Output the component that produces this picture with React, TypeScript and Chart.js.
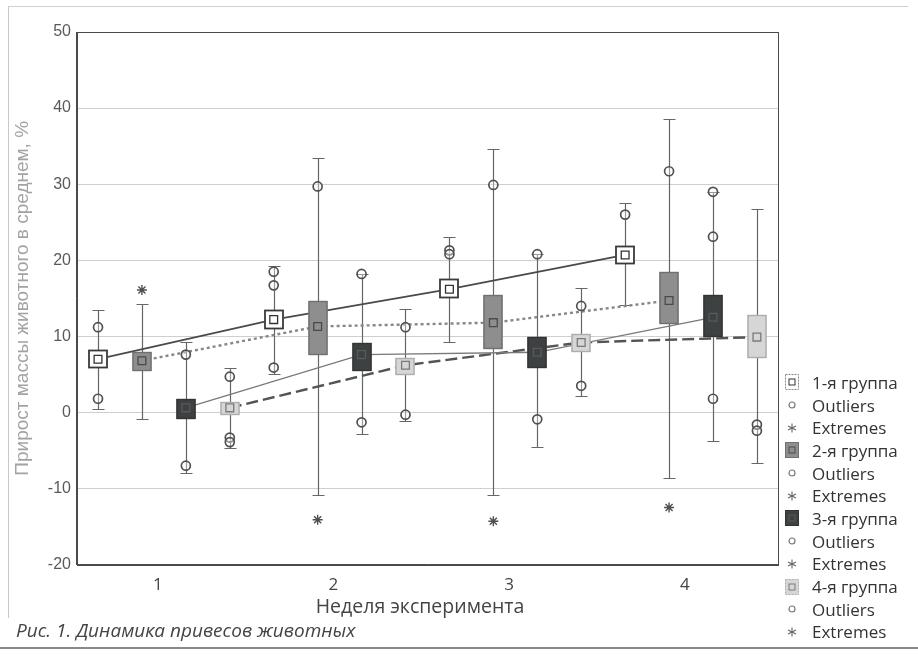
import React, { useEffect, useRef } from "react";
import { Chart, registerables } from "chart.js";

Chart.register(...registerables);

// ---------- data ----------
const WEEKS = [1, 2, 3, 4];
const WEEK_TICKS = ["1", "2", "3", "4"];
const Y_TICKS = [-20, -10, 0, 10, 20, 30, 40, 50];
const GROUP_NAMES = ["1-я группа", "2-я группа", "3-я группа", "4-я группа"];

const g1Mean = [7.0, 12.2, 16.2, 20.7];
const g1BoxLo = [5.8, 10.9, 15.0, 19.5];
const g1BoxHi = [8.2, 13.4, 17.5, 21.9];
const g1WhiskLo = [0.5, 5.0, 9.3, 14.1];
const g1WhiskHi = [13.4, 19.3, 23.0, 27.5];
const g1Outliers = [[11.2, 1.8], [18.5, 16.7, 5.9], [21.3, 20.8], [26.0]];
const g1Extremes: number[][] = [[], [], [], []];

const g2Mean = [6.8, 11.3, 11.8, 14.7];
const g2BoxLo = [5.5, 7.6, 8.3, 11.6];
const g2BoxHi = [8.0, 14.7, 15.4, 18.4];
const g2WhiskLo = [-0.8, -10.8, -10.8, -8.6];
const g2WhiskHi = [14.2, 33.4, 34.6, 38.6];
const g2Outliers = [[], [29.7], [29.9], [31.7]];
const g2Extremes = [[16.1], [-14.1], [-14.3], [-12.5]];

const g3Mean = [0.6, 7.6, 7.9, 12.5];
const g3BoxLo = [-0.8, 5.5, 5.8, 9.9];
const g3BoxHi = [1.8, 9.1, 9.9, 15.4];
const g3WhiskLo = [-7.9, -2.9, -4.5, -3.7];
const g3WhiskHi = [9.3, 18.2, 20.8, 29.0];
const g3Outliers = [[7.6, -7.0], [18.2, -1.3], [20.8, -0.9], [29.0, 23.1, 1.8]];
const g3Extremes: number[][] = [[], [], [], []];

const g4Mean = [0.6, 6.2, 9.2, 9.9];
const g4BoxLo = [-0.3, 4.9, 7.9, 7.2];
const g4BoxHi = [1.4, 7.2, 10.3, 12.8];
const g4WhiskLo = [-4.7, -1.1, 2.2, -6.7];
const g4WhiskHi = [5.9, 13.6, 16.3, 26.8];
const g4Outliers = [[4.7, -3.3, -3.9], [11.2, -0.3], [14.0, 3.5], [-1.6, -2.4]];
const g4Extremes: number[][] = [[], [], [], []];

// ---------- layout / styles ----------
const GROUP_OFFSETS = [-0.34, -0.09, 0.16, 0.41];
const X_MIN = 0.54;
const X_MAX = 4.53;

const STYLES = [
  { boxFill: "#ffffff", boxBorder: "#3a3a3a", meanBorder: "#333333", lineColor: "#4a4a4a", lineDash: [] as number[], lineWidth: 1.7 },
  { boxFill: "#8e8e8e", boxBorder: "#707070", meanBorder: "#4a4a4a", lineColor: "#7f8c7e", lineDash: [3, 3], lineWidth: 2.4 },
  { boxFill: "#3d4141", boxBorder: "#333333", meanBorder: "#5a5a5a", lineColor: "#7a7a7a", lineDash: [] as number[], lineWidth: 1.4 },
  { boxFill: "#d6d6d6", boxBorder: "#adadad", meanBorder: "#7a7a7a", lineColor: "#50555b", lineDash: [12, 5], lineWidth: 2.4 },
];

const GROUPS = [
  { mean: g1Mean, boxLo: g1BoxLo, boxHi: g1BoxHi, whiskLo: g1WhiskLo, whiskHi: g1WhiskHi, outliers: g1Outliers, extremes: g1Extremes },
  { mean: g2Mean, boxLo: g2BoxLo, boxHi: g2BoxHi, whiskLo: g2WhiskLo, whiskHi: g2WhiskHi, outliers: g2Outliers, extremes: g2Extremes },
  { mean: g3Mean, boxLo: g3BoxLo, boxHi: g3BoxHi, whiskLo: g3WhiskLo, whiskHi: g3WhiskHi, outliers: g3Outliers, extremes: g3Extremes },
  { mean: g4Mean, boxLo: g4BoxLo, boxHi: g4BoxHi, whiskLo: g4WhiskLo, whiskHi: g4WhiskHi, outliers: g4Outliers, extremes: g4Extremes },
];

const BOX_HALF_PX = 9.5;
const CAP_HALF_PX = 6;
const WHISKER_COLOR = "#666666";

const boxPlugin = {
  id: "boxplots",
  beforeDatasetsDraw(chart: any) {
    chart.$boxesDrawn = false;
    const { ctx, scales } = chart;
    const x = scales.x, y = scales.y;
    ctx.save();
    ctx.strokeStyle = WHISKER_COLOR;
    ctx.lineWidth = 1.2;
    GROUPS.forEach((g, gi) => {
      WEEKS.forEach((w, wi) => {
        const px = Math.round(x.getPixelForValue(w + GROUP_OFFSETS[gi])) + 0.5;
        const top = Math.round(y.getPixelForValue(g.whiskHi[wi])) + 0.5;
        const bot = Math.round(y.getPixelForValue(g.whiskLo[wi])) + 0.5;
        ctx.beginPath();
        ctx.moveTo(px, top);
        ctx.lineTo(px, bot);
        ctx.moveTo(px - CAP_HALF_PX, top);
        ctx.lineTo(px + CAP_HALF_PX, top);
        ctx.moveTo(px - CAP_HALF_PX, bot);
        ctx.lineTo(px + CAP_HALF_PX, bot);
        ctx.stroke();
      });
    });
    ctx.restore();
  },
  beforeDatasetDraw(chart: any, args: any) {
    const ds = chart.data.datasets[args.index];
    if (ds.kind !== "points" || chart.$boxesDrawn) return;
    chart.$boxesDrawn = true;
    const { ctx, scales } = chart;
    const x = scales.x, y = scales.y;
    ctx.save();
    GROUPS.forEach((g, gi) => {
      const st = STYLES[gi];
      WEEKS.forEach((w, wi) => {
        const px = Math.round(x.getPixelForValue(w + GROUP_OFFSETS[gi]));
        const top = Math.round(y.getPixelForValue(g.boxHi[wi]));
        const bot = Math.round(y.getPixelForValue(g.boxLo[wi]));
        ctx.fillStyle = st.boxFill;
        ctx.fillRect(px - BOX_HALF_PX, top, BOX_HALF_PX * 2, bot - top);
        ctx.strokeStyle = st.boxBorder;
        ctx.lineWidth = gi === 0 ? 1.8 : 1.4;
        ctx.strokeRect(px - BOX_HALF_PX + 0.5, top + 0.5, BOX_HALF_PX * 2 - 1, bot - top - 1);
      });
    });
    ctx.restore();
  },
  afterDraw(chart: any) {
    const { ctx, chartArea } = chart;
    ctx.save();
    ctx.strokeStyle = "#4a4a4a";
    ctx.lineWidth = 1;
    ctx.strokeRect(
      Math.round(chartArea.left) + 0.5,
      Math.round(chartArea.top) + 0.5,
      Math.round(chartArea.right - chartArea.left),
      Math.round(chartArea.bottom - chartArea.top)
    );
    ctx.restore();
  },
};

function buildDatasets() {
  const lines: any[] = [];
  const points: any[] = [];
  GROUPS.forEach((g, gi) => {
    const st = STYLES[gi];
    const off = GROUP_OFFSETS[gi];
    lines.push({
      type: "scatter",
      label: GROUP_NAMES[gi],
      kind: "line",
      showLine: true,
      data: WEEKS.map((w, wi) => ({ x: w + off, y: g.mean[wi] })),
      borderColor: st.lineColor,
      borderDash: st.lineDash,
      borderWidth: st.lineWidth,
      pointRadius: 0,
      order: 5,
    });
    points.push({
      type: "scatter",
      label: GROUP_NAMES[gi] + " mean",
      kind: "points",
      data: WEEKS.map((w, wi) => ({ x: w + off, y: g.mean[wi] })),
      pointStyle: "rect",
      pointRadius: 5.5,
      pointBorderWidth: 1.3,
      pointBorderColor: st.meanBorder,
      pointBackgroundColor: "rgba(0,0,0,0)",
      order: 1,
    });
    const outl: any[] = [];
    const extr: any[] = [];
    WEEKS.forEach((w, wi) => {
      g.outliers[wi].forEach((v) => outl.push({ x: w + off, y: v }));
      g.extremes[wi].forEach((v) => extr.push({ x: w + off, y: v }));
    });
    points.push({
      type: "scatter",
      label: "Outliers",
      kind: "points",
      data: outl,
      pointStyle: "circle",
      pointRadius: 4.5,
      pointBorderWidth: 1.7,
      pointBorderColor: "#505050",
      pointBackgroundColor: "rgba(255,255,255,0.35)",
      order: 1,
    });
    points.push({
      type: "scatter",
      label: "Extremes",
      kind: "points",
      data: extr,
      pointStyle: "star",
      pointRadius: 5,
      pointBorderWidth: 1.4,
      pointBorderColor: "#505050",
      order: 1,
    });
  });
  return [...points, ...lines];
}

const LEGEND_ROWS: { text: string; icon: string; group: number }[] = [];
GROUP_NAMES.forEach((name, gi) => {
  LEGEND_ROWS.push({ text: name, icon: "box", group: gi });
  LEGEND_ROWS.push({ text: "Outliers", icon: "circle", group: gi });
  LEGEND_ROWS.push({ text: "Extremes", icon: "star", group: gi });
});

function LegendIcon({ icon, group }: { icon: string; group: number }) {
  const st = STYLES[group];
  if (icon === "box") {
    return (
      <svg width="14" height="16" viewBox="0 0 14 16">
        <rect x="0.5" y="0.5" width="13" height="15" fill={st.boxFill} stroke={group === 0 ? "#8a8a8a" : st.boxBorder} strokeDasharray={group === 0 || group === 3 ? "2 1" : undefined} />
        <rect x="4" y="5" width="6" height="6" fill="none" stroke={st.meanBorder} strokeWidth="1" />
      </svg>
    );
  }
  if (icon === "circle") {
    return (
      <svg width="14" height="16" viewBox="0 0 14 16">
        <circle cx="7" cy="8" r="3" fill="none" stroke="#777" strokeWidth="1.2" />
      </svg>
    );
  }
  return (
    <svg width="14" height="16" viewBox="0 0 14 16">
      <g stroke="#666" strokeWidth="1.1">
        <line x1="7" y1="3.5" x2="7" y2="12.5" />
        <line x1="3" y1="6" x2="11" y2="10" />
        <line x1="3" y1="10" x2="11" y2="6" />
      </g>
    </svg>
  );
}

export default function App() {
  const canvasRef = useRef<HTMLCanvasElement | null>(null);

  useEffect(() => {
    const canvas = canvasRef.current;
    if (!canvas) return;
    const chart = new Chart(canvas, {
      type: "scatter",
      data: { datasets: buildDatasets() as any },
      plugins: [boxPlugin as any],
      options: {
        responsive: false,
        animation: false,
        devicePixelRatio: 1,
        layout: { padding: { left: 8, right: 140, top: 32, bottom: 50 } },
        plugins: {
          legend: { display: false },
          tooltip: { enabled: false },
        },
        scales: {
          x: {
            type: "linear",
            min: X_MIN,
            max: X_MAX,
            afterBuildTicks: (axis: any) => {
              axis.ticks = WEEKS.map((v) => ({ value: v }));
            },
            ticks: {
              callback: (v: any) => WEEK_TICKS[WEEKS.indexOf(Number(v))] ?? "",
              color: "#444",
              font: { family: "'Open Sans', sans-serif", size: 17 },
              padding: 10,
              maxRotation: 0,
            },
            grid: { display: true, drawOnChartArea: false, drawTicks: false },
            border: { display: true, color: "#4a4a4a" },
            title: { display: false },
          },
          y: {
            type: "linear",
            min: -20,
            max: 50,
            afterBuildTicks: (axis: any) => {
              axis.ticks = Y_TICKS.map((v) => ({ value: v }));
            },
            ticks: {
              color: "#5a5a5a",
              font: { family: "'Liberation Sans', Arial, sans-serif", size: 16 },
              padding: 6,
            },
            grid: { color: "#cfcfcf", lineWidth: 1, drawTicks: false },
            border: { display: true, color: "#4a4a4a" },
            title: {
              display: true,
              text: "Прирост массы животного в среднем, %",
              color: "#a3a3a3",
              font: { family: "'Liberation Sans', Arial, sans-serif", size: 19 },
              padding: { top: 3, bottom: 8 },
            },
          },
        },
      } as any,
    });
    return () => chart.destroy();
  }, []);

  return (
    <div
      style={{
        position: "fixed",
        left: 0,
        top: 0,
        width: 918,
        height: 655,
        background: "#ffffff",
        overflow: "hidden",
      }}
    >
      <canvas ref={canvasRef} width={918} height={655} style={{ position: "absolute", left: 0, top: 0, width: 918, height: 655 }} />
      <div style={{ position: "absolute", left: 8, top: 6, width: 0, height: 612, borderLeft: "1px solid #c8c8c8" }} />
      <div style={{ position: "absolute", left: 8, top: 6, width: 900, height: 0, borderTop: "1px solid #d0d0d0" }} />
      <div style={{ position: "absolute", left: 0, top: 647, width: 918, height: 0, borderTop: "2px solid #8a8a8a" }} />
      <div
        style={{
          position: "absolute",
          left: 420,
          top: 606,
          transform: "translate(-50%, -50%)",
          fontFamily: "'Open Sans', sans-serif",
          fontSize: 19.5,
          color: "#444",
          whiteSpace: "nowrap",
          lineHeight: "24px",
        }}
      >
        Неделя эксперимента
      </div>
      <div
        style={{
          position: "absolute",
          left: 785,
          top: 371,
          fontFamily: "'Open Sans', sans-serif",
          fontSize: 17,
          color: "#333",
        }}
      >
        {LEGEND_ROWS.map((r, i) => (
          <div key={i} style={{ display: "flex", alignItems: "center", height: 22.7, whiteSpace: "nowrap" }}>
            <div style={{ width: 27, display: "flex", alignItems: "center" }}>
              <LegendIcon icon={r.icon} group={r.group} />
            </div>
            <span>{r.text}</span>
          </div>
        ))}
      </div>
      <div
        style={{
          position: "absolute",
          left: 16,
          top: 618,
          fontFamily: "'Open Sans', sans-serif",
          fontStyle: "italic",
          fontSize: 19,
          color: "#444",
          whiteSpace: "nowrap",
          lineHeight: "24px",
        }}
      >
        Рис. 1. Динамика привесов животных
      </div>
    </div>
  );
}
